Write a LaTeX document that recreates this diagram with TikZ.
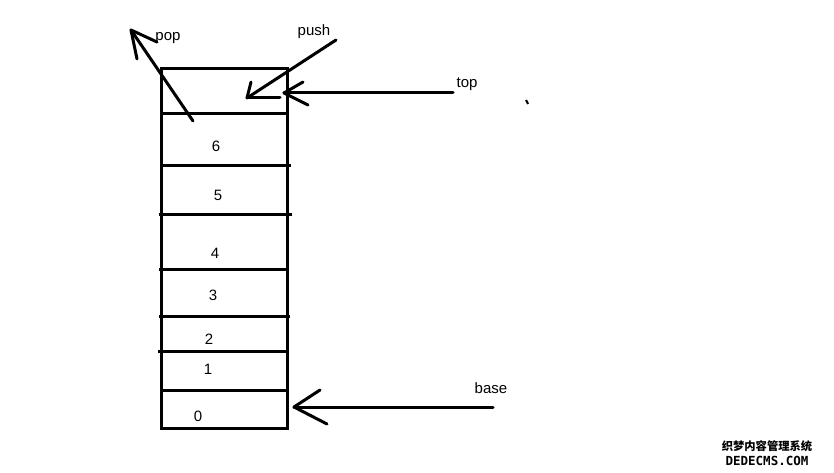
\documentclass[tikz,border=0pt]{standalone}
\usepackage{fontspec}
\setmainfont{Liberation Sans}
\newfontfamily\cjkfont{Noto Sans CJK SC}
\newfontfamily\wmfont{DejaVu Sans Mono}
\begin{document}
\begin{tikzpicture}[x=1pt,y=-1pt,
  ink/.style={line width=3pt,black},
  barb/.style={line width=3pt,black,line cap=round},
  lbl/.style={inner sep=0pt,font=\fontsize{15}{15}\selectfont},
  wm/.style={inner sep=0pt}]
\useasboundingbox[fill=white] (0,0) rectangle (834,473);
% stack box
\draw[ink] (161,69) rectangle (287,428);
% divider lines
\draw[ink] (161,114) -- (287,114);
\draw[ink] (161,166) -- (291,166);
\draw[ink] (159,214) -- (292,214);
\draw[ink] (159,269) -- (289,269);
\draw[ink] (159,316) -- (290,316);
\draw[ink] (158,351) -- (287,351);
\draw[ink] (162,390) -- (289,390);
% cell labels
\node[lbl] (c6) at (216,146) {6};
\node[lbl] (c5) at (218,195) {5};
\node[lbl] (c4) at (215,253) {4};
\node[lbl] (c3) at (213,295) {3};
\node[lbl] (c2) at (209,339) {2};
\node[lbl] (c1) at (208,369) {1};
\node[lbl] (c0) at (198,416) {0};
% side labels
\node[lbl] (pop) at (168,38) {pop};
\node[lbl] (push) at (314,32) {push};
\node[lbl] (top) at (467,84) {top};
\node[lbl] (base) at (491,388) {base};
% pop arrow
\coordinate (popS) at (193,121);
\coordinate (popT) at (131,30);
\draw[barb] (popS) -- (popT);
\draw[barb] (popT) -- (157,42);
\draw[barb] (popT) -- (137,59);
% push arrow
\coordinate (pushS) at (336,40);
\coordinate (pushT) at (247,98);
\draw[barb] (pushS) -- (pushT);
\draw[barb] (pushT) -- (251,82);
\draw[barb] (pushT) -- (280,98);
% top arrow
\coordinate (topS) at (453,93);
\coordinate (topT) at (284,93);
\draw[barb] (topS) -- (topT);
\draw[barb] (topT) -- (303,82);
\draw[barb] (topT) -- (308,105);
% base arrow
\coordinate (baseS) at (493,407);
\coordinate (baseT) at (294,407);
\draw[barb] (baseS) -- (baseT);
\draw[barb] (baseT) -- (320,390);
\draw[barb] (baseT) -- (327,424);
% stray mark
\draw[line width=2pt] (526,100) -- (528,104);
% watermark
\node[wm,font=\cjkfont\bfseries\fontsize{11.3}{11.3}\selectfont] (wm1) at (767,446) {织梦内容管理系统};
\node[wm,font=\wmfont\bfseries\fontsize{12.5}{12.5}\selectfont] (wm2) at (767,461) {DEDECMS.COM};
\end{tikzpicture}
\end{document}
